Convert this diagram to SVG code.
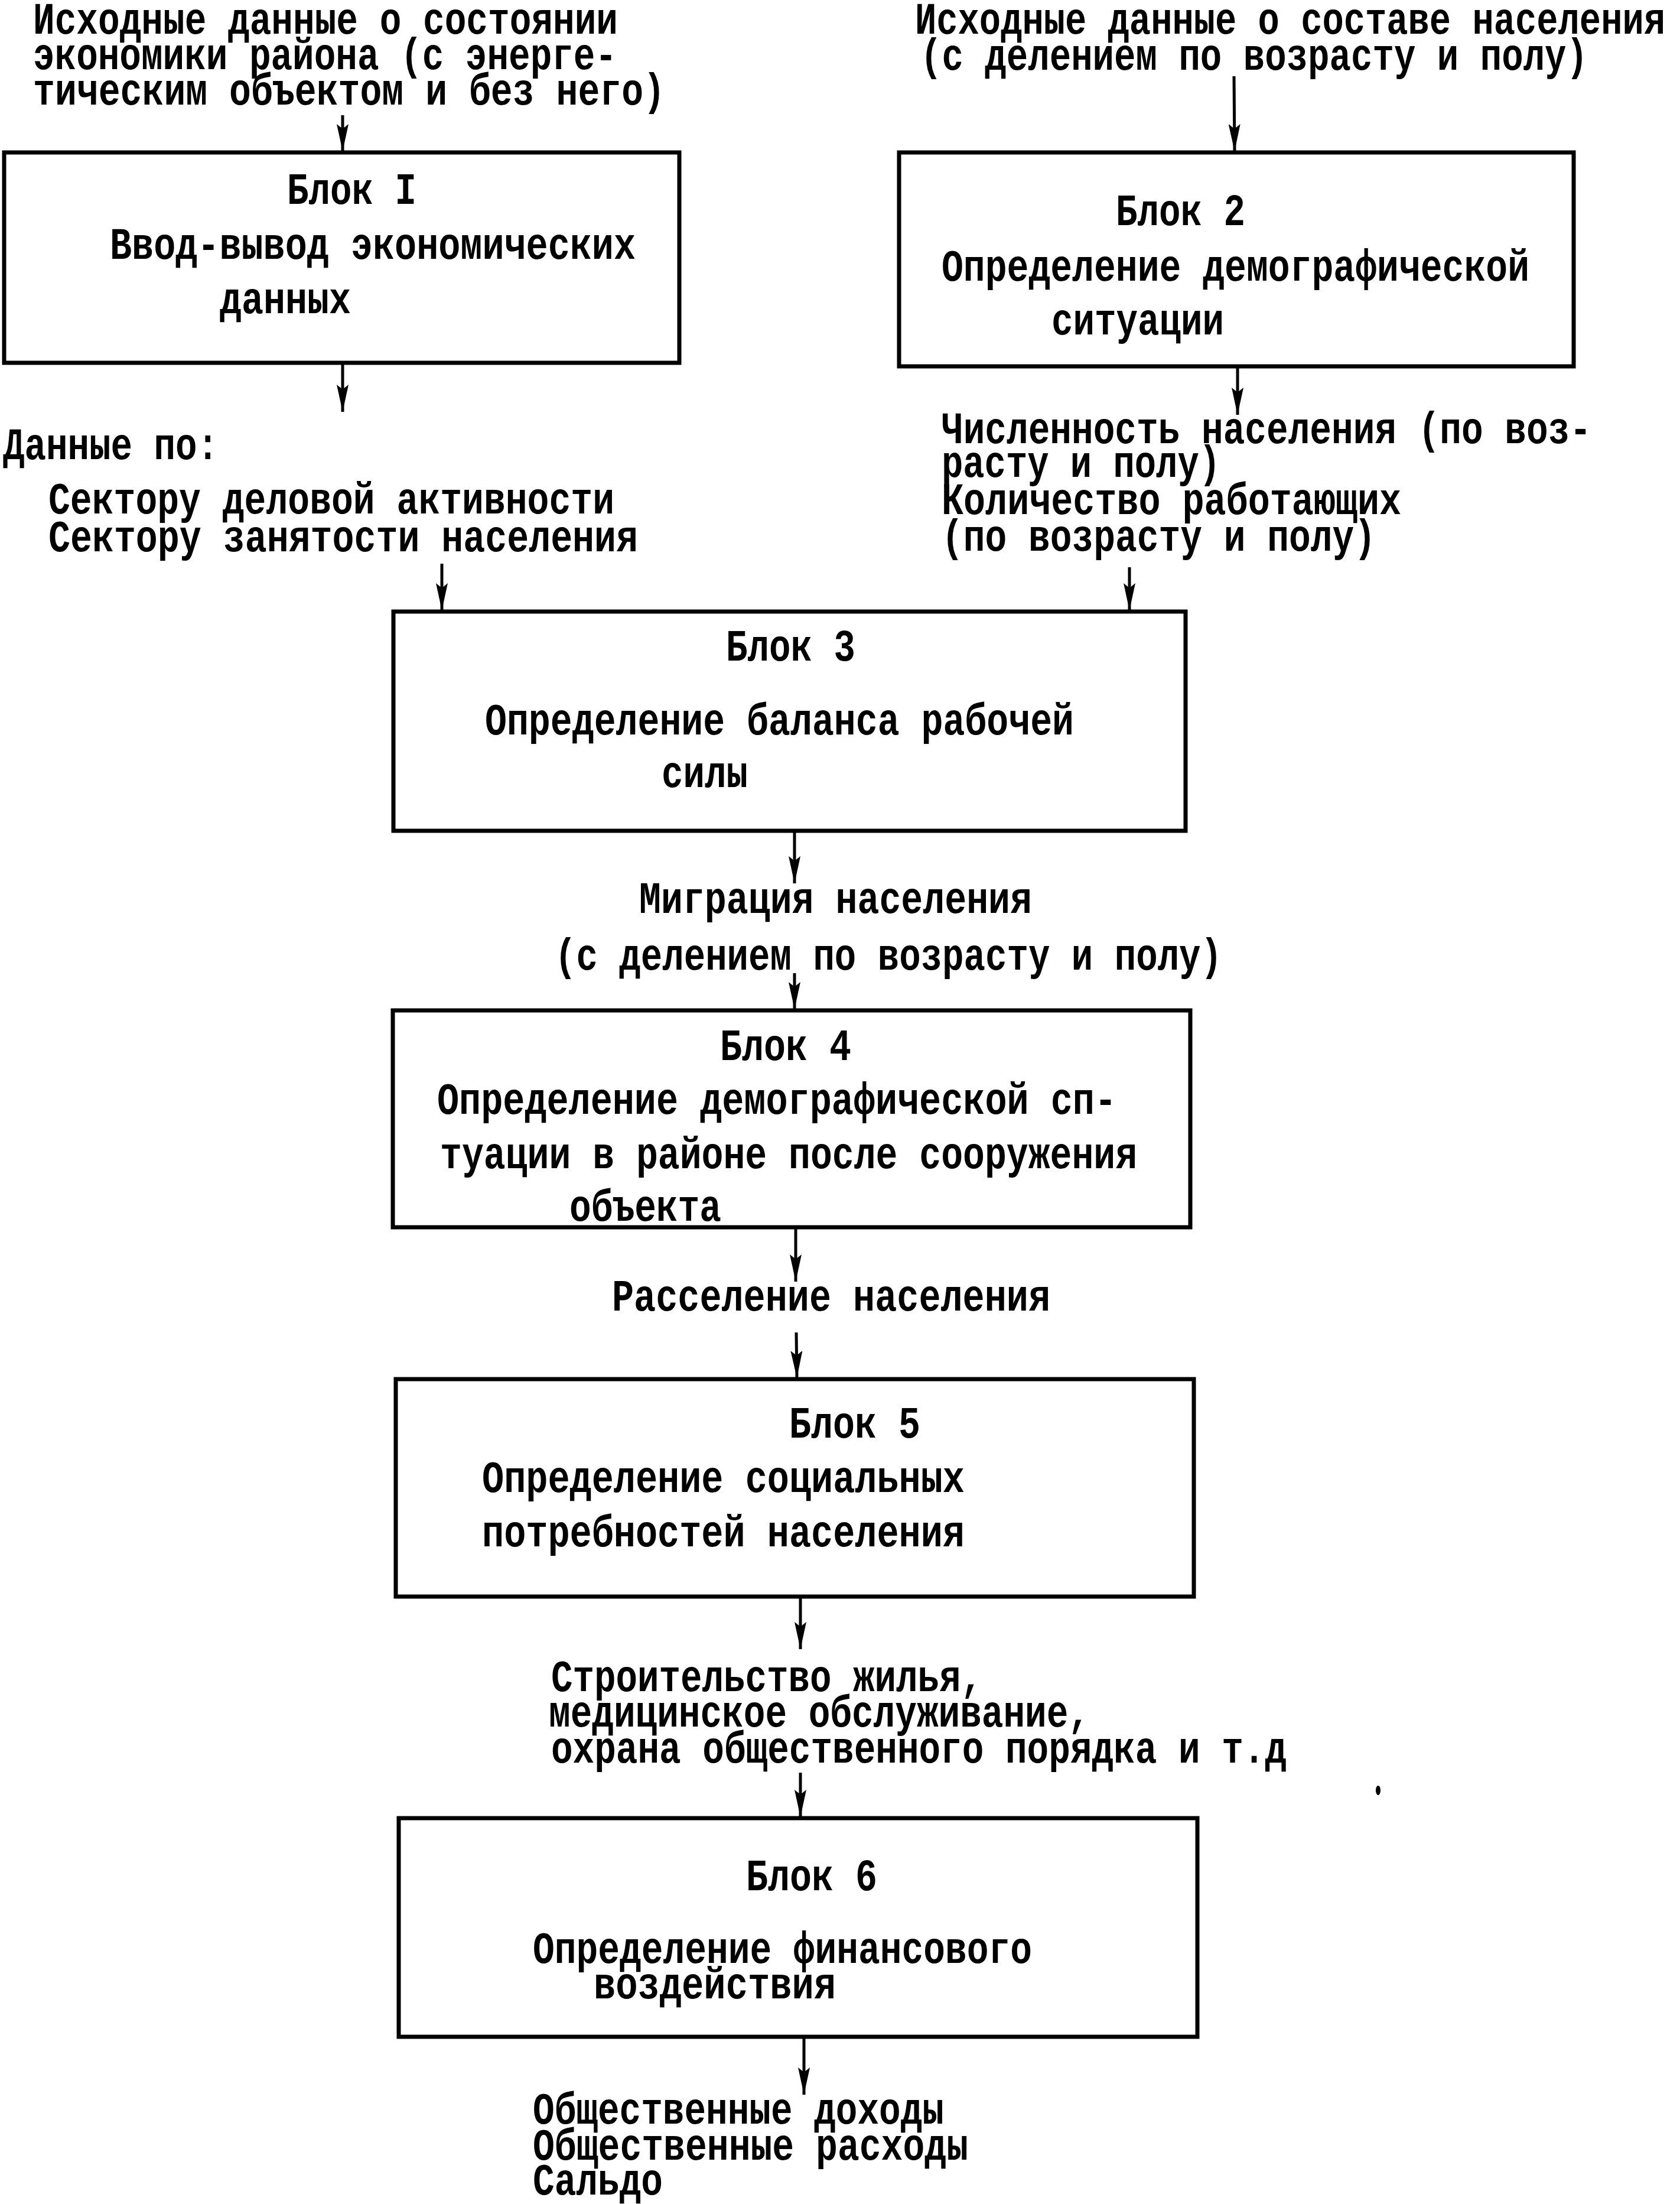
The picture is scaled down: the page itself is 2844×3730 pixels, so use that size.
<svg xmlns="http://www.w3.org/2000/svg" width="2844" height="3730" viewBox="0 0 2844 3730">
<style>
.bg{fill:#ffffff}
.box{fill:none;stroke:#000;stroke-width:7}
.ln{fill:none;stroke:#000;stroke-width:5}
.t{font-family:"Liberation Mono","DejaVu Sans Mono",monospace;font-weight:bold;font-size:76px;fill:#000}
</style>
<defs>
<marker id="ah" viewBox="0 0 46 20" refX="46" refY="10" markerWidth="46" markerHeight="20" markerUnits="userSpaceOnUse" orient="auto">
<path d="M0,0 L46,10 L0,20 L8,10 z" fill="#000"/>
</marker>
</defs>
<rect class="bg" x="0" y="0" width="2844" height="3730"/>

<g id="input-economy">
<text class="t" x="56" y="57" textLength="990" lengthAdjust="spacingAndGlyphs">Исходные данные о состоянии</text>
<text class="t" x="56" y="117" textLength="988" lengthAdjust="spacingAndGlyphs">экономики района (с энерге-</text>
<text class="t" x="56" y="177" textLength="1070" lengthAdjust="spacingAndGlyphs">тическим объектом и без него)</text>
</g>

<g id="input-population">
<text class="t" x="1549" y="57" textLength="1270" lengthAdjust="spacingAndGlyphs">Исходные данные о составе населения</text>
<text class="t" x="1558" y="118" textLength="1130" lengthAdjust="spacingAndGlyphs">(с делением по возрасту и полу)</text>
</g>

<g id="block1">
<rect class="box" x="7" y="258" width="1143" height="356"/>
<text class="t" x="486" y="345" textLength="219" lengthAdjust="spacingAndGlyphs">Блок I</text>
<text class="t" x="186" y="438" textLength="890" lengthAdjust="spacingAndGlyphs">Ввод-вывод экономических</text>
<text class="t" x="372" y="530" textLength="222" lengthAdjust="spacingAndGlyphs">данных</text>
</g>

<g id="block2">
<rect class="box" x="1522" y="258" width="1142" height="362"/>
<text class="t" x="1889" y="381" textLength="219" lengthAdjust="spacingAndGlyphs">Блок 2</text>
<text class="t" x="1594" y="475" textLength="995" lengthAdjust="spacingAndGlyphs">Определение демографической</text>
<text class="t" x="1780" y="566" textLength="292" lengthAdjust="spacingAndGlyphs">ситуации</text>
</g>

<g id="data-sectors">
<text class="t" x="5" y="777" textLength="365" lengthAdjust="spacingAndGlyphs">Данные по:</text>
<text class="t" x="82" y="869" textLength="958" lengthAdjust="spacingAndGlyphs">Сектору деловой активности</text>
<text class="t" x="82" y="933" textLength="998" lengthAdjust="spacingAndGlyphs">Сектору занятости населения</text>
</g>

<g id="data-population">
<text class="t" x="1594" y="750" textLength="1100" lengthAdjust="spacingAndGlyphs">Численность населения (по воз-</text>
<text class="t" x="1594" y="807" textLength="472" lengthAdjust="spacingAndGlyphs">расту и полу)</text>
<text class="t" x="1594" y="870" textLength="778" lengthAdjust="spacingAndGlyphs">Количество работающих</text>
<text class="t" x="1594" y="932" textLength="735" lengthAdjust="spacingAndGlyphs">(по возрасту и полу)</text>
</g>

<g id="block3">
<rect class="box" x="666" y="1035" width="1341" height="371"/>
<text class="t" x="1229" y="1118" textLength="219" lengthAdjust="spacingAndGlyphs">Блок 3</text>
<text class="t" x="821" y="1243" textLength="997" lengthAdjust="spacingAndGlyphs">Определение баланса рабочей</text>
<text class="t" x="1120" y="1332" textLength="146" lengthAdjust="spacingAndGlyphs">силы</text>
</g>

<g id="migration">
<text class="t" x="1082" y="1545" textLength="665" lengthAdjust="spacingAndGlyphs">Миграция населения</text>
<text class="t" x="939" y="1641" textLength="1130" lengthAdjust="spacingAndGlyphs">(с делением по возрасту и полу)</text>
</g>

<g id="block4">
<rect class="box" x="665" y="1710" width="1350" height="367"/>
<text class="t" x="1219" y="1794" textLength="222" lengthAdjust="spacingAndGlyphs">Блок 4</text>
<text class="t" x="740" y="1885" textLength="1150" lengthAdjust="spacingAndGlyphs">Определение демографической сп-</text>
<text class="t" x="745" y="1977" textLength="1180" lengthAdjust="spacingAndGlyphs">туации в районе после сооружения</text>
<text class="t" x="964" y="2066" textLength="257" lengthAdjust="spacingAndGlyphs">объекта</text>
</g>

<g id="settlement">
<text class="t" x="1036" y="2218" textLength="742" lengthAdjust="spacingAndGlyphs">Расселение населения</text>
</g>

<g id="block5">
<rect class="box" x="670" y="2334" width="1351" height="368"/>
<text class="t" x="1336" y="2433" textLength="222" lengthAdjust="spacingAndGlyphs">Блок 5</text>
<text class="t" x="816" y="2525" textLength="817" lengthAdjust="spacingAndGlyphs">Определение социальных</text>
<text class="t" x="816" y="2617" textLength="817" lengthAdjust="spacingAndGlyphs">потребностей населения</text>
</g>

<g id="social-services">
<text class="t" x="933" y="2862" textLength="730" lengthAdjust="spacingAndGlyphs">Строительство жилья,</text>
<text class="t" x="929" y="2922" textLength="916" lengthAdjust="spacingAndGlyphs">медицинское обслуживание,</text>
<text class="t" x="933" y="2983" textLength="1245" lengthAdjust="spacingAndGlyphs">охрана общественного порядка и т.д</text>
</g>

<g id="block6">
<rect class="box" x="675" y="3077" width="1352" height="370"/>
<text class="t" x="1263" y="3199" textLength="222" lengthAdjust="spacingAndGlyphs">Блок 6</text>
<text class="t" x="902" y="3322" textLength="845" lengthAdjust="spacingAndGlyphs">Определение финансового</text>
<text class="t" x="1005" y="3382" textLength="410" lengthAdjust="spacingAndGlyphs">воздействия</text>
</g>

<g id="results">
<text class="t" x="902" y="3594" textLength="696" lengthAdjust="spacingAndGlyphs">Общественные доходы</text>
<text class="t" x="902" y="3655" textLength="737" lengthAdjust="spacingAndGlyphs">Общественные расходы</text>
<text class="t" x="902" y="3714" textLength="220" lengthAdjust="spacingAndGlyphs">Сальдо</text>
</g>

<g id="connectors">
<line class="ln" x1="580" y1="195" x2="580" y2="256" marker-end="url(#ah)"/>
<line class="ln" x1="2089" y1="129" x2="2090" y2="256" marker-end="url(#ah)"/>
<line class="ln" x1="580" y1="617" x2="580" y2="697" marker-end="url(#ah)"/>
<line class="ln" x1="2095" y1="623" x2="2095" y2="702" marker-end="url(#ah)"/>
<line class="ln" x1="748" y1="954" x2="748" y2="1033" marker-end="url(#ah)"/>
<line class="ln" x1="1912" y1="960" x2="1912" y2="1033" marker-end="url(#ah)"/>
<line class="ln" x1="1345" y1="1409" x2="1345" y2="1495" marker-end="url(#ah)"/>
<line class="ln" x1="1345" y1="1647" x2="1345" y2="1708" marker-end="url(#ah)"/>
<line class="ln" x1="1347" y1="2080" x2="1347" y2="2169" marker-end="url(#ah)"/>
<line class="ln" x1="1348" y1="2255" x2="1349" y2="2332" marker-end="url(#ah)"/>
<line class="ln" x1="1355" y1="2705" x2="1355" y2="2791" marker-end="url(#ah)"/>
<line class="ln" x1="1355" y1="3000" x2="1355" y2="3075" marker-end="url(#ah)"/>
<line class="ln" x1="1361" y1="3450" x2="1361" y2="3545" marker-end="url(#ah)"/>
</g>

<ellipse cx="2333" cy="3030" rx="4" ry="8" fill="#000"/>
</svg>
